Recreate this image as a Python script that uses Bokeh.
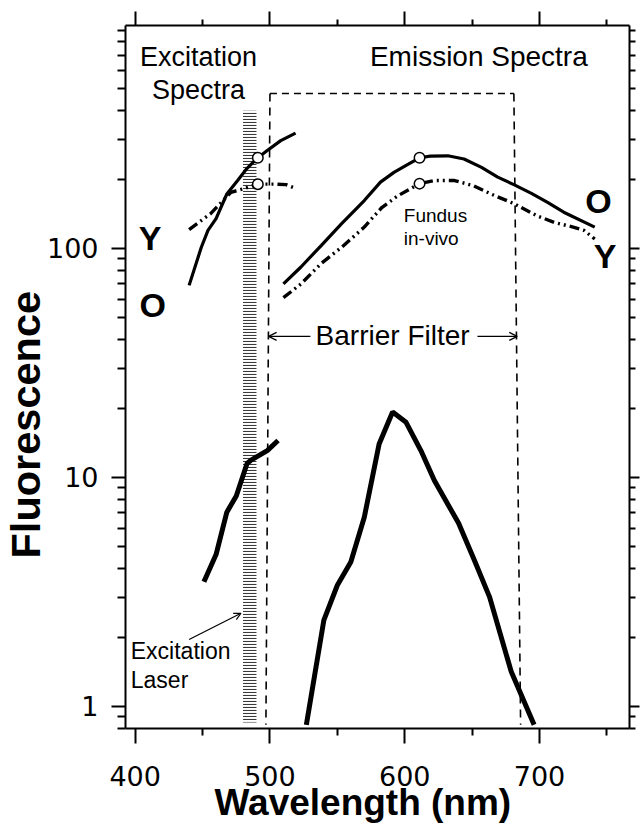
from bokeh.plotting import figure
from bokeh.models import (FixedTicker, LinearAxis, LogAxis, Label, Arrow, OpenHead, Title,
                          BasicTickFormatter, CustomJSTickFormatter, Range1d)
from bokeh.embed import file_html
from bokeh.resources import INLINE

# ---------------- data ----------------
x_major = [400, 500, 600, 700]
x_minor = [450, 550, 650, 750]
y_major = [1, 10, 100]
y_minor = [0.8, 0.9, 2, 3, 4, 5, 6, 7, 8, 9, 20, 30, 40, 50, 60, 70, 80, 90,
           200, 300, 400, 500, 600, 700, 800, 900]

# excitation spectra (O = solid, Y = dash-dot-dot)
exc_O_wl = [440, 449, 454, 460, 468, 476, 483, 491, 498, 508, 519]
exc_O_val = [69, 101, 120, 135, 173, 198, 224, 249, 268, 296, 319]
exc_Y_wl = [440, 456, 471, 480, 491, 503, 512, 518]
exc_Y_val = [121, 142, 176, 182, 191, 191, 190, 184]

# emission spectra
em_O_wl = [510, 523, 538, 553, 570, 582, 592, 603, 611, 619, 632, 644, 657, 669, 681, 694, 706, 718, 741]
em_O_val = [70, 83, 103, 128, 162, 195, 215, 234, 249, 253, 254, 246, 226, 205, 190, 174, 159, 144, 124]
em_Y_wl = [510, 523, 538, 553, 570, 583, 595, 611, 622, 637, 651, 664, 681, 698, 711, 725, 733, 741]
em_Y_val = [61, 70, 86, 101, 124, 151, 170, 192, 198, 198, 188, 173, 157, 139, 130, 124, 120, 110]

# normalisation points (open circles)
norm_wl = [491, 491, 611, 611]
norm_val = [249, 191, 249, 192]

# fundus in-vivo
fundus_exc_wl = [451, 460, 468, 475, 483, 486, 498, 506]
fundus_exc_val = [3.5, 4.6, 7.05, 8.3, 11.5, 11.9, 13.1, 14.5]
fundus_em_wl = [527, 540, 550, 560, 570, 581, 591, 601, 612, 622, 640, 652, 663, 679, 696]
fundus_em_val = [0.83, 2.38, 3.38, 4.27, 6.7, 14.0, 19.3, 17.4, 13.1, 9.7, 6.3, 4.3, 3.0, 1.42, 0.83]

# excitation laser band and barrier filter
laser_left, laser_right, laser_bottom, laser_top = 480, 490, 0.85, 400
barrier_left_x = [500, 497]
barrier_right_x = [681, 686]
barrier_top, barrier_bottom = 475, 0.83

# ---------------- figure ----------------
p = figure(width=641, height=823, y_axis_type="log",
           x_range=Range1d(392.8, 766.8), y_range=Range1d(0.80, 942),
           output_backend="svg", toolbar_location=None,
           min_border_left=125, min_border_right=12, min_border_top=25, min_border_bottom=95)
p.grid.visible = False
p.outline_line_color = None
p.background_fill_color = "white"
p.border_fill_color = "white"

tick_font = "DejaVu Sans"
SANS = "Liberation Sans"

# bottom axis
xa = p.xaxis[0]
xa.ticker = FixedTicker(ticks=x_major, minor_ticks=x_minor)
xa.major_tick_out = 15
xa.major_tick_in = 0
xa.minor_tick_out = 7
xa.minor_tick_in = 0
xa.axis_line_width = 2
xa.major_tick_line_width = 2
xa.minor_tick_line_width = 2
xa.major_label_text_font = tick_font
xa.major_label_text_font_size = "27px"
xa.major_label_text_color = "black"
xa.major_label_standoff = 22

# left axis
ya = p.yaxis[0]
ya.ticker = FixedTicker(ticks=y_major, minor_ticks=y_minor)
ya.formatter = BasicTickFormatter(use_scientific=False)
ya.major_tick_out = 14
ya.major_tick_in = 0
ya.minor_tick_out = 8
ya.minor_tick_in = 0
ya.axis_line_width = 2
ya.major_tick_line_width = 2
ya.minor_tick_line_width = 2
ya.major_label_text_font = tick_font
ya.major_label_text_font_size = "27px"
ya.major_label_text_color = "black"
ya.major_label_standoff = 13

empty = CustomJSTickFormatter(code="return ''")

top = LinearAxis(ticker=FixedTicker(ticks=x_major, minor_ticks=x_minor), formatter=empty,
                 major_tick_out=14, major_tick_in=0, minor_tick_out=6, minor_tick_in=0,
                 axis_line_width=2, major_tick_line_width=2, minor_tick_line_width=2,
                 major_label_standoff=0, major_label_text_font_size="1px")
p.add_layout(top, "above")

right = LogAxis(ticker=FixedTicker(ticks=y_major, minor_ticks=y_minor), formatter=empty,
                major_tick_out=10, major_tick_in=0, minor_tick_out=6, minor_tick_in=0,
                axis_line_width=2, major_tick_line_width=2, minor_tick_line_width=2,
                major_label_standoff=0, major_label_text_font_size="1px")
p.add_layout(right, "right")

# axis titles as side titles (allow off-centre placement)
xtitle = Title(text="Wavelength (nm)", align="left", offset=89, standoff=-17,
               text_font=SANS, text_font_size="37px", text_font_style="bold", text_color="black")
p.add_layout(xtitle, "below")
ytitle = Title(text="Fluorescence", align="left", offset=170, standoff=-10,
               text_font=SANS, text_font_size="41.5px", text_font_style="bold", text_color="black")
p.add_layout(ytitle, "left")

# laser band (hatched)
p.quad(left=[laser_left], right=[laser_right], bottom=[laser_bottom], top=[laser_top],
       fill_color=None, line_color=None, hatch_pattern="horizontal_line",
       hatch_scale=3, hatch_weight=1.1, hatch_color="#3a3a3a")

# barrier filter box
p.line([barrier_left_x[0], barrier_right_x[0]], [barrier_top, barrier_top],
       line_color="black", line_width=1.6, line_dash="7 5")
p.line(barrier_left_x, [barrier_top, barrier_bottom], line_color="black", line_width=1.6, line_dash="8 6")
p.line(barrier_right_x, [barrier_top, barrier_bottom], line_color="black", line_width=1.6, line_dash="8 6")

# spectra
ddot = "10 4 2 4 2 4"
p.line(exc_O_wl, exc_O_val, line_color="black", line_width=3.2)
p.line(exc_Y_wl, exc_Y_val, line_color="black", line_width=3.4, line_dash=ddot)
p.line(em_O_wl, em_O_val, line_color="black", line_width=3.2)
p.line(em_Y_wl, em_Y_val, line_color="black", line_width=3.4, line_dash=ddot)

p.line(fundus_exc_wl, fundus_exc_val, line_color="black", line_width=5)
p.line(fundus_em_wl, fundus_em_val, line_color="black", line_width=5)

p.scatter(norm_wl, norm_val, size=10.5, marker="circle", fill_color="white",
          line_color="black", line_width=1.5)

# arrows
def arrow(xs, ys, xe, ye, size=8):
    p.add_layout(Arrow(end=OpenHead(size=size, line_width=1.2, line_color="black"),
                       x_start=xs, y_start=ys, x_end=xe, y_end=ye,
                       line_width=1.2, line_color="black"))

arrow(530, 41.3, 499, 41.3)
arrow(654, 41.3, 683.5, 41.3)
arrow(440, 1.96, 478.5, 2.55, size=7)

# annotation texts
def lab(x, y, text, size, align="left", bold=False):
    p.add_layout(Label(x=x, y=y, text=text, text_font=SANS, text_font_size=f"{size}px",
                       text_align=align, text_baseline="alphabetic", y_offset=0.36 * size,
                       text_font_style="bold" if bold else "normal", text_color="black"))

lab(447, 623, "Excitation", 27, "center")
lab(447, 447, "Spectra", 27, "center")
lab(655, 623, "Emission Spectra", 28, "center")
lab(591, 37.7, "Barrier Filter", 28, "center")
lab(599.3, 130, "Fundus", 19)
lab(599.3, 103, "in-vivo", 19)
lab(396.7, 1.60, "Excitation", 23)
lab(396.7, 1.20, "Laser", 23)
lab(411, 98, "Y", 34, "center", bold=True)
lab(413, 50, "O", 34, "center", bold=True)
lab(743.7, 142, "O", 34, "center", bold=True)
lab(748.6, 81.8, "Y", 34, "center", bold=True)

open("out.html", "w").write(file_html(p, INLINE))
